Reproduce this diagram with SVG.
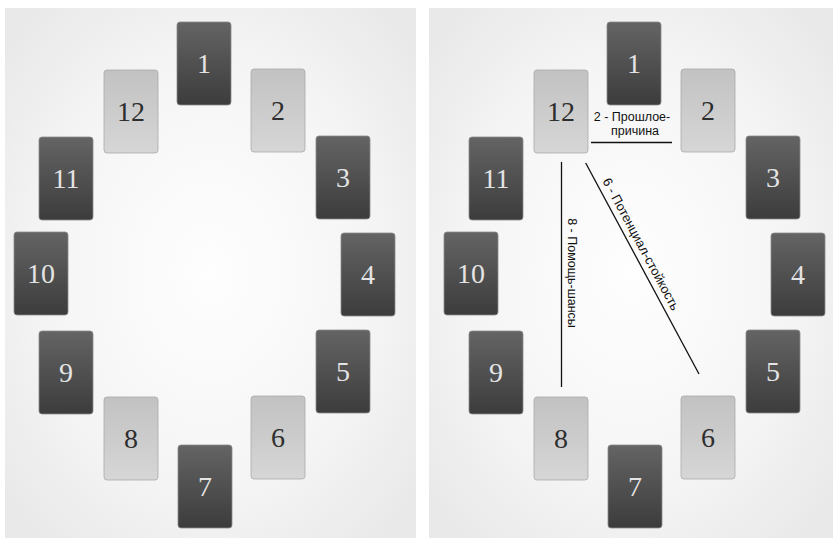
<svg xmlns="http://www.w3.org/2000/svg" width="835" height="540" viewBox="0 0 835 540">
<defs>
<radialGradient id="bg" cx="0.5" cy="0.5" r="0.65">
<stop offset="0" stop-color="#fefefe"/>
<stop offset="0.6" stop-color="#f5f5f5"/>
<stop offset="1" stop-color="#e9e9e9"/>
</radialGradient>
<linearGradient id="dk" x1="0" y1="0" x2="0" y2="1">
<stop offset="0" stop-color="#646464"/>
<stop offset="1" stop-color="#3c3c3c"/>
</linearGradient>
<linearGradient id="lt" x1="0" y1="0" x2="0" y2="1">
<stop offset="0" stop-color="#c2c2c2"/>
<stop offset="1" stop-color="#d6d6d6"/>
</linearGradient>
</defs>
<style>
.dk rect{fill:url(#dk);stroke:#8a8a8a;stroke-width:0.8}
.lt rect{fill:url(#lt);stroke:#a9a9a9;stroke-width:0.8}
.num{font-family:"Liberation Serif","DejaVu Serif",serif;font-size:28px;text-anchor:middle}
.dk .num{fill:#e4e4e4}
.lt .num{fill:#2e2e2e}
.lbl{font-family:"Liberation Sans",Arial,sans-serif;font-size:12.5px;fill:#111;text-anchor:middle}
.ln{stroke:#111;stroke-width:1.3;fill:none}
</style>
<rect width="835" height="540" fill="#ffffff"/>
<rect x="5" y="8" width="411" height="530" fill="url(#bg)"/>
<rect x="429" y="8" width="404" height="530" fill="url(#bg)"/>

<g id="left">
<g id="L1" class="dk"><rect x="177" y="22" width="54" height="83" rx="3"/><text class="num" x="204" y="73">1</text></g>
<g id="L2" class="lt"><rect x="251" y="69" width="54" height="83" rx="3"/><text class="num" x="278" y="120">2</text></g>
<g id="L3" class="dk"><rect x="316" y="136" width="54" height="83" rx="3"/><text class="num" x="343" y="187">3</text></g>
<g id="L4" class="dk"><rect x="341" y="233" width="54" height="83" rx="3"/><text class="num" x="368" y="284">4</text></g>
<g id="L5" class="dk"><rect x="316" y="330" width="54" height="83" rx="3"/><text class="num" x="343" y="381">5</text></g>
<g id="L6" class="lt"><rect x="251" y="396" width="54" height="83" rx="3"/><text class="num" x="278" y="447">6</text></g>
<g id="L7" class="dk"><rect x="178" y="445" width="54" height="83" rx="3"/><text class="num" x="205" y="496">7</text></g>
<g id="L8" class="lt"><rect x="104" y="397" width="54" height="83" rx="3"/><text class="num" x="131" y="448">8</text></g>
<g id="L9" class="dk"><rect x="39" y="331" width="54" height="83" rx="3"/><text class="num" x="66" y="382">9</text></g>
<g id="L10" class="dk"><rect x="14" y="232" width="54" height="83" rx="3"/><text class="num" x="41" y="283">10</text></g>
<g id="L11" class="dk"><rect x="39" y="137" width="54" height="83" rx="3"/><text class="num" x="66" y="188">11</text></g>
<g id="L12" class="lt"><rect x="104" y="70" width="54" height="83" rx="3"/><text class="num" x="131" y="121">12</text></g>
</g>

<g id="right">
<g id="R1" class="dk"><rect x="607" y="22" width="54" height="83" rx="3"/><text class="num" x="634" y="73">1</text></g>
<g id="R2" class="lt"><rect x="681" y="69" width="54" height="83" rx="3"/><text class="num" x="708" y="120">2</text></g>
<g id="R3" class="dk"><rect x="746" y="136" width="54" height="83" rx="3"/><text class="num" x="773" y="187">3</text></g>
<g id="R4" class="dk"><rect x="771" y="233" width="54" height="83" rx="3"/><text class="num" x="798" y="284">4</text></g>
<g id="R5" class="dk"><rect x="746" y="330" width="54" height="83" rx="3"/><text class="num" x="773" y="381">5</text></g>
<g id="R6" class="lt"><rect x="681" y="396" width="54" height="83" rx="3"/><text class="num" x="708" y="447">6</text></g>
<g id="R7" class="dk"><rect x="608" y="445" width="54" height="83" rx="3"/><text class="num" x="635" y="496">7</text></g>
<g id="R8" class="lt"><rect x="534" y="397" width="54" height="83" rx="3"/><text class="num" x="561" y="448">8</text></g>
<g id="R9" class="dk"><rect x="469" y="331" width="54" height="83" rx="3"/><text class="num" x="496" y="382">9</text></g>
<g id="R10" class="dk"><rect x="444" y="232" width="54" height="83" rx="3"/><text class="num" x="471" y="283">10</text></g>
<g id="R11" class="dk"><rect x="469" y="137" width="54" height="83" rx="3"/><text class="num" x="496" y="188">11</text></g>
<g id="R12" class="lt"><rect x="534" y="70" width="54" height="83" rx="3"/><text class="num" x="561" y="121">12</text></g>
</g>

<g id="connectors">
<line class="ln" x1="591" y1="142.5" x2="672" y2="142.5"/>
<line class="ln" x1="561.5" y1="162" x2="561.5" y2="387"/>
<line class="ln" x1="585.7" y1="163" x2="699" y2="374"/>
<text class="lbl" x="632" y="121">2 - Прошлое-</text>
<text class="lbl" x="635" y="135">причина</text>
<text class="lbl" transform="translate(568,273) rotate(90)">8 - Помощь-шансы</text>
<text class="lbl" style="font-size:13px" transform="translate(637.2,246.2) rotate(61.8)">6 - Потенциал-стойкость</text>
</g>
</svg>
